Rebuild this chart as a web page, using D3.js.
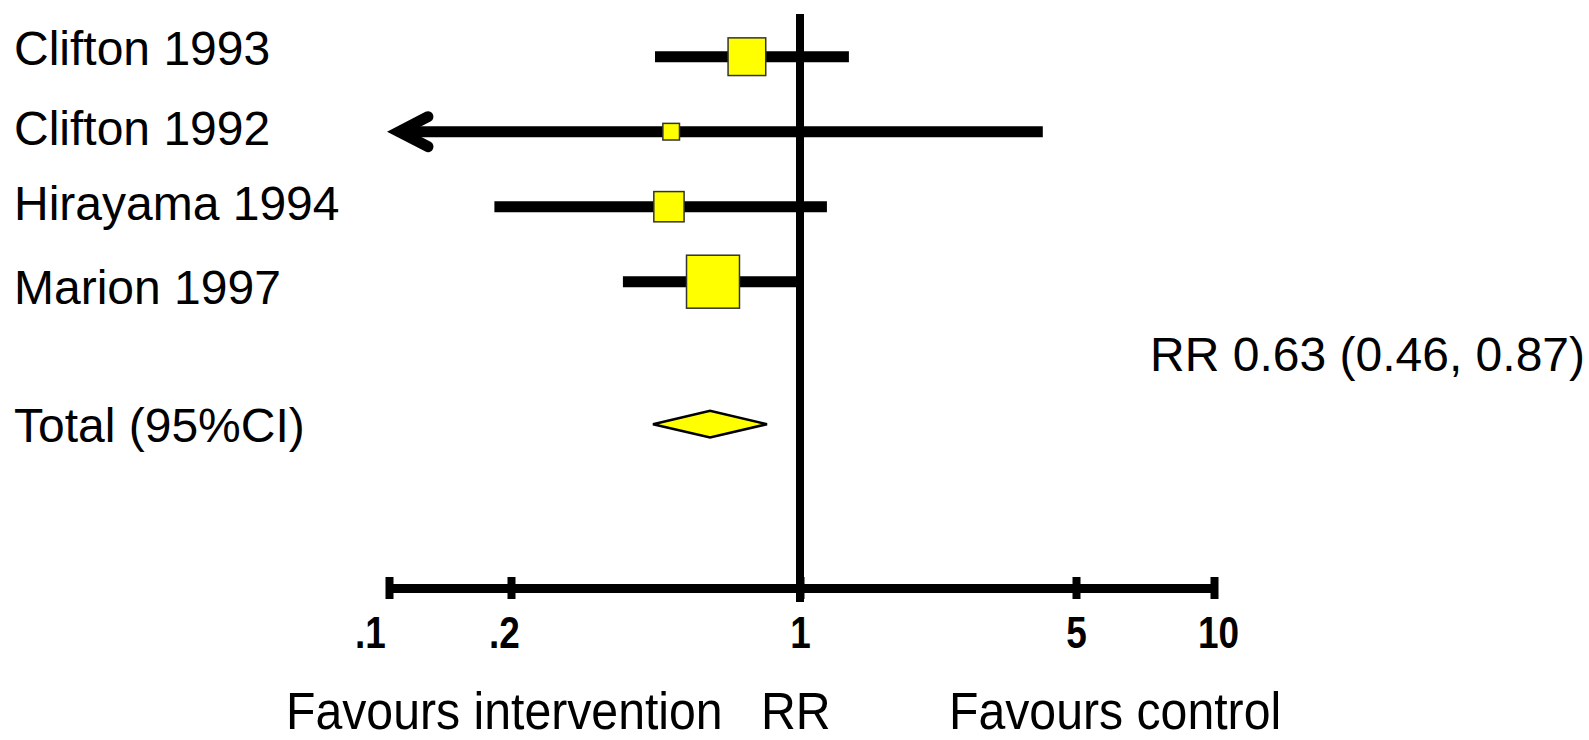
<!DOCTYPE html>
<html><head><meta charset="utf-8">
<script src="https://cdn.jsdelivr.net/npm/d3@7"></script>
<style>body{margin:0;background:#fff}svg{display:block}</style>
</head><body><svg id="c" width="1589" height="740"></svg>
<script>
// ---- data ----
const studies = ["Clifton 1993", "Clifton 1992", "Hirayama 1994", "Marion 1997"];
const rr      = [0.744, 0.488, 0.482, 0.616];
const ciLow   = [0.446, 0.05, 0.182, 0.373];
const ciHigh  = [1.33, 4.12, 1.17, 0.99];
const weights = [26.2, 5.1, 16.9, 51.8];
const totalLabel = ["Total (95%CI)"];
const totalEst = [0.441, 0.606, 0.832];   // low, point, high as drawn
const totalText = ["RR 0.63 (0.46, 0.87)"];
const tickValues = [0.1, 0.2, 1, 5, 10];
const tickLabels = [".1", ".2", "1", "5", "10"];
const bottomLabels = ["Favours intervention", "RR", "Favours control"];

// ---- layout ----
const FONT = "'Liberation Sans', Arial, Helvetica, sans-serif";
const svg = d3.select("#c");
const x = d3.scaleLog().domain(tickValues).range([389, 511, 800, 1076, 1214]).clamp(true);
const y = d3.scaleLinear().domain([0, 1]).range([56.7, 131.7]);
const totalRow = 4.9;
const side = d3.scaleSqrt().domain([0, 100]).range([0, 73.6]);
const axisY = 588;
const labelDy = [-9, -4, -4, 5, 1];

// CI lines
const rows = studies.map((s, i) => ({s, i, rr: rr[i], lo: ciLow[i], hi: ciHigh[i], w: weights[i]}));
svg.append("g").selectAll("line").data(rows).join("line")
  .attr("x1", d => d.lo < tickValues[0] ? x(tickValues[0]) + 10 : x(d.lo))
  .attr("x2", d => x(d.hi))
  .attr("y1", d => y(d.i)).attr("y2", d => y(d.i))
  .attr("stroke", "#000").attr("stroke-width", 11);

// arrows for truncated CIs
svg.append("g").selectAll("path").data(rows.filter(d => d.lo < tickValues[0])).join("path")
  .attr("d", d => {
    const vx = x(tickValues[0]) + 10, vy = y(d.i);
    return `M${vx + 29},${vy - 15}L${vx},${vy}L${vx + 29},${vy + 15}`;
  })
  .attr("fill", "none").attr("stroke", "#000").attr("stroke-width", 11)
  .attr("stroke-linecap", "round").attr("stroke-linejoin", "miter");

// line of no effect
svg.append("line")
  .attr("x1", x(1)).attr("x2", x(1)).attr("y1", 14).attr("y2", 602)
  .attr("stroke", "#000").attr("stroke-width", 8);

// squares
svg.append("g").selectAll("rect").data(rows).join("rect")
  .attr("x", d => x(d.rr) - side(d.w) / 2)
  .attr("y", d => y(d.i) - side(d.w) / 2)
  .attr("width", d => side(d.w)).attr("height", d => side(d.w))
  .attr("fill", "#ffff00").attr("stroke", "#333").attr("stroke-width", 1.5);

// diamond
const ty = y(totalRow);
svg.append("path")
  .attr("d", `M${x(totalEst[0])},${ty}L${x(totalEst[1])},${ty - 13.3}L${x(totalEst[2])},${ty}L${x(totalEst[1])},${ty + 13.3}Z`)
  .attr("fill", "#ffff00").attr("stroke", "#000").attr("stroke-width", 2.5).attr("stroke-linejoin", "miter");

// study labels
svg.append("g").selectAll("text").data(studies.concat(totalLabel)).join("text")
  .attr("x", 14)
  .attr("y", (d, i) => (i < studies.length ? y(i) : ty) + labelDy[i])
  .attr("dy", "0.36em")
  .attr("font-family", FONT).attr("font-size", 48).attr("fill", "#000")
  .text(d => d);

// total text
svg.append("text").attr("x", 1585).attr("y", 371).attr("text-anchor", "end")
  .attr("font-family", FONT).attr("font-size", 48).attr("fill", "#000")
  .text(totalText[0]);

// axis
const tickDx = {".1": -19, ".2": -7, "10": 4};
const axis = d3.axisBottom(x).tickValues(tickValues)
  .tickFormat((d, i) => tickLabels[i]).tickSize(11).tickSizeOuter(0);
const ga = svg.append("g").attr("transform", `translate(0,${axisY})`).call(axis);
ga.select(".domain").attr("stroke", "#000").attr("stroke-width", 9);
ga.selectAll(".tick line").attr("y1", -11).attr("y2", 11).attr("stroke", "#000").attr("stroke-width", 8);
ga.selectAll(".tick text")
  .attr("y", 60).attr("dy", null)
  .attr("dx", (d, i) => tickDx[tickLabels[i]] || 0)
  .attr("font-family", FONT).attr("font-size", 45).attr("font-weight", "bold").attr("fill", "#000")
  .each(function () {
    const w = this.getComputedTextLength();
    d3.select(this).attr("textLength", w * 0.82).attr("lengthAdjust", "spacingAndGlyphs");
  });

// bottom labels
const bx = [286, 761, 949];
svg.append("g").selectAll("text").data(bottomLabels).join("text")
  .attr("x", (d, i) => bx[i]).attr("y", 729)
  .attr("font-family", FONT).attr("font-size", 51).attr("fill", "#000")
  .text(d => d)
  .each(function () {
    const w = this.getComputedTextLength();
    d3.select(this).attr("textLength", w * 0.945).attr("lengthAdjust", "spacingAndGlyphs");
  });
</script>
</body></html>
